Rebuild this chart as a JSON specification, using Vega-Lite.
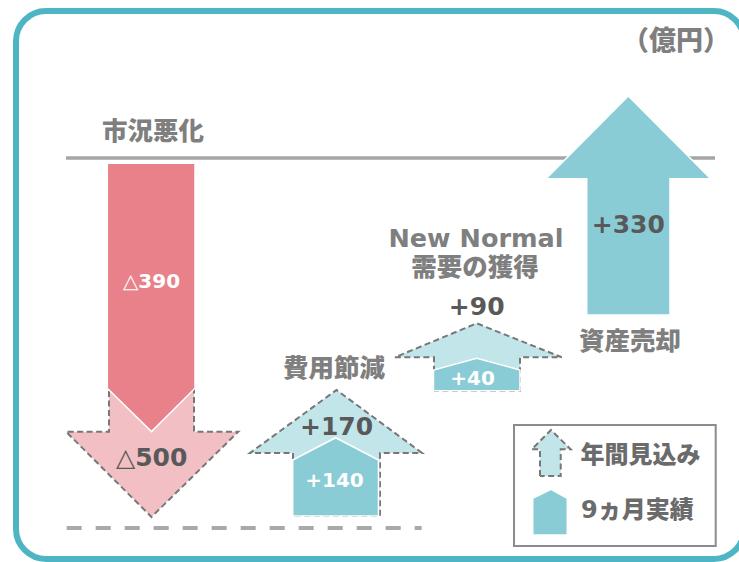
{
  "$schema": "https://vega.github.io/schema/vega-lite/v6.json",
  "width": 739,
  "height": 562,
  "autosize": {"type": "fit", "contains": "padding"},
  "padding": {"left": 16, "top": 11, "right": -5, "bottom": 3},
  "background": "white",
  "view": {"stroke": "#4db5c3", "strokeWidth": 6, "cornerRadius": 30, "fill": "white"},
  "config": {"font": "DejaVu Sans, Noto Sans CJK JP"},
  "datasets": {
    "rules": [
      {"name": "基準", "x": 6.6, "x2": 71.5, "y": 0},
      {"name": "底", "x": 6.67, "x2": 42.17, "y": -500}
    ],
    "box": [
      {"x": 51.4, "x2": 71.57, "y": -360.8, "y2": -524.3}
    ],
    "shapes": [
      {"s": "A", "k": "悪化・年間見込み", "i": 0, "x": 10.9, "y": -40},
      {"s": "A", "k": "悪化・年間見込み", "i": 1, "x": 19.4, "y": -40},
      {"s": "A", "k": "悪化・年間見込み", "i": 2, "x": 19.4, "y": -369.8},
      {"s": "A", "k": "悪化・年間見込み", "i": 3, "x": 23.83, "y": -369.8},
      {"s": "A", "k": "悪化・年間見込み", "i": 4, "x": 15.15, "y": -485.1},
      {"s": "A", "k": "悪化・年間見込み", "i": 5, "x": 6.6, "y": -369.8},
      {"s": "A", "k": "悪化・年間見込み", "i": 6, "x": 10.9, "y": -369.8},
      {"s": "A", "k": "悪化・年間見込み", "i": 7, "x": 10.9, "y": -40},

      {"s": "B", "k": "悪化・9ヵ月実績", "i": 0, "x": 10.73, "y": -7.2},
      {"s": "B", "k": "悪化・9ヵ月実績", "i": 1, "x": 19.5, "y": -7.2},
      {"s": "B", "k": "悪化・9ヵ月実績", "i": 2, "x": 19.5, "y": -311.2},
      {"s": "B", "k": "悪化・9ヵ月実績", "i": 3, "x": 15.15, "y": -369.8},
      {"s": "B", "k": "悪化・9ヵ月実績", "i": 4, "x": 10.73, "y": -311.2},
      {"s": "B", "k": "悪化・9ヵ月実績", "i": 5, "x": 10.73, "y": -7.2},

      {"s": "C", "k": "改善・年間見込み", "i": 0, "x": 29.3, "y": -483.8},
      {"s": "C", "k": "改善・年間見込み", "i": 1, "x": 29.3, "y": -398.6},
      {"s": "C", "k": "改善・年間見込み", "i": 2, "x": 25.0, "y": -398.6},
      {"s": "C", "k": "改善・年間見込み", "i": 3, "x": 33.65, "y": -313.5},
      {"s": "C", "k": "改善・年間見込み", "i": 4, "x": 42.2, "y": -398.6},
      {"s": "C", "k": "改善・年間見込み", "i": 5, "x": 38.0, "y": -398.6},
      {"s": "C", "k": "改善・年間見込み", "i": 6, "x": 38.0, "y": -483.8},
      {"s": "C", "k": "改善・年間見込み", "i": 7, "x": 29.3, "y": -483.8},

      {"s": "D", "k": "改善・9ヵ月実績", "i": 0, "x": 29.27, "y": -483.8},
      {"s": "D", "k": "改善・9ヵ月実績", "i": 1, "x": 29.27, "y": -408.1},
      {"s": "D", "k": "改善・9ヵ月実績", "i": 2, "x": 33.57, "y": -378.0},
      {"s": "D", "k": "改善・9ヵ月実績", "i": 3, "x": 37.85, "y": -408.1},
      {"s": "D", "k": "改善・9ヵ月実績", "i": 4, "x": 37.85, "y": -483.8},
      {"s": "D", "k": "改善・9ヵ月実績", "i": 5, "x": 29.27, "y": -483.8},

      {"s": "E", "k": "改善・年間見込み", "i": 0, "x": 43.4, "y": -314.4},
      {"s": "E", "k": "改善・年間見込み", "i": 1, "x": 43.4, "y": -269.3},
      {"s": "E", "k": "改善・年間見込み", "i": 2, "x": 39.5, "y": -269.3},
      {"s": "E", "k": "改善・年間見込み", "i": 3, "x": 47.67, "y": -223.4},
      {"s": "E", "k": "改善・年間見込み", "i": 4, "x": 56.17, "y": -269.3},
      {"s": "E", "k": "改善・年間見込み", "i": 5, "x": 52.0, "y": -269.3},
      {"s": "E", "k": "改善・年間見込み", "i": 6, "x": 52.0, "y": -314.4},
      {"s": "E", "k": "改善・年間見込み", "i": 7, "x": 43.4, "y": -314.4},

      {"s": "F", "k": "改善・9ヵ月実績", "i": 0, "x": 43.35, "y": -314.4},
      {"s": "F", "k": "改善・9ヵ月実績", "i": 1, "x": 43.35, "y": -286.5},
      {"s": "F", "k": "改善・9ヵ月実績", "i": 2, "x": 47.67, "y": -270.7},
      {"s": "F", "k": "改善・9ヵ月実績", "i": 3, "x": 52.0, "y": -286.5},
      {"s": "F", "k": "改善・9ヵ月実績", "i": 4, "x": 52.0, "y": -314.4},
      {"s": "F", "k": "改善・9ヵ月実績", "i": 5, "x": 43.35, "y": -314.4},

      {"s": "G", "k": "改善・9ヵ月実績", "i": 0, "x": 58.67, "y": -212.2},
      {"s": "G", "k": "改善・9ヵ月実績", "i": 1, "x": 58.67, "y": -28.0},
      {"s": "G", "k": "改善・9ヵ月実績", "i": 2, "x": 54.6, "y": -28.0},
      {"s": "G", "k": "改善・9ヵ月実績", "i": 3, "x": 62.83, "y": 83.8},
      {"s": "G", "k": "改善・9ヵ月実績", "i": 4, "x": 71.07, "y": -28.0},
      {"s": "G", "k": "改善・9ヵ月実績", "i": 5, "x": 67.0, "y": -28.0},
      {"s": "G", "k": "改善・9ヵ月実績", "i": 6, "x": 67.0, "y": -212.2},
      {"s": "G", "k": "改善・9ヵ月実績", "i": 7, "x": 58.67, "y": -212.2},

      {"s": "H", "k": "改善・年間見込み", "i": 0, "x": 54.0, "y": -429.7},
      {"s": "H", "k": "改善・年間見込み", "i": 1, "x": 54.0, "y": -393.7},
      {"s": "H", "k": "改善・年間見込み", "i": 2, "x": 53.17, "y": -393.7},
      {"s": "H", "k": "改善・年間見込み", "i": 3, "x": 55.1, "y": -367.6},
      {"s": "H", "k": "改善・年間見込み", "i": 4, "x": 57.07, "y": -393.7},
      {"s": "H", "k": "改善・年間見込み", "i": 5, "x": 56.07, "y": -393.7},
      {"s": "H", "k": "改善・年間見込み", "i": 6, "x": 56.07, "y": -429.7},
      {"s": "H", "k": "改善・年間見込み", "i": 7, "x": 54.0, "y": -429.7},

      {"s": "I", "k": "改善・9ヵ月実績", "i": 0, "x": 53.27, "y": -509.5},
      {"s": "I", "k": "改善・9ヵ月実績", "i": 1, "x": 53.27, "y": -459.9},
      {"s": "I", "k": "改善・9ヵ月実績", "i": 2, "x": 55.1, "y": -447.7},
      {"s": "I", "k": "改善・9ヵ月実績", "i": 3, "x": 56.73, "y": -459.9},
      {"s": "I", "k": "改善・9ヵ月実績", "i": 4, "x": 56.73, "y": -509.5},
      {"s": "I", "k": "改善・9ヵ月実績", "i": 5, "x": 53.27, "y": -509.5}
    ],
    "labels": [
      {"g": "cat", "text": "市況悪化", "x": 15.3, "y": 34.5},
      {"g": "cat", "text": "費用節減", "x": 33.4, "y": -284.5},
      {"g": "cat", "text": "New Normal", "x": 47.6, "y": -109.2},
      {"g": "cat", "text": "需要の獲得", "x": 47.5, "y": -148.0},
      {"g": "cat", "text": "資産売却", "x": 63.0, "y": -248.2},
      {"g": "unit", "text": "（億円）", "x": 73.0, "y": 156.1},
      {"g": "val", "text": "△500", "x": 15.17, "y": -405.8},
      {"g": "val", "text": "+170", "x": 33.65, "y": -363.1},
      {"g": "val", "text": "+90", "x": 47.67, "y": -201.0},
      {"g": "val", "text": "+330", "x": 62.83, "y": -91.2},
      {"g": "act", "text": "△390", "x": 15.15, "y": -168.2},
      {"g": "act", "text": "+140", "x": 33.45, "y": -436.2},
      {"g": "act", "text": "+40", "x": 47.25, "y": -298.4},
      {"g": "leg", "text": "年間見込み", "x": 58.05, "y": -402.4},
      {"g": "leg", "text": "9ヵ月実績", "x": 58.1, "y": -477.4}
    ]
  },
  "encoding": {
    "x": {"field": "x", "type": "quantitative", "scale": {"domain": [1.6, 74.4], "nice": false, "zero": false}, "axis": null},
    "y": {"field": "y", "type": "quantitative", "scale": {"domain": [-541.9, 198.65], "nice": false, "zero": false}, "axis": null}
  },
  "layer": [
    {
      "data": {"name": "rules"},
      "transform": [{"filter": "datum.name == '基準'"}],
      "mark": {"type": "rule", "stroke": "#a6a6a6", "strokeWidth": 3.5},
      "encoding": {"x2": {"field": "x2"}}
    },
    {
      "data": {"name": "rules"},
      "transform": [{"filter": "datum.name == '底'"}],
      "mark": {"type": "rule", "stroke": "#a9a9a9", "strokeWidth": 4, "strokeDash": [15, 14]},
      "encoding": {"x2": {"field": "x2"}}
    },
    {
      "data": {"name": "box"},
      "mark": {"type": "rect", "fill": "white", "stroke": "#8c8c8c", "strokeWidth": 2},
      "encoding": {"x2": {"field": "x2"}, "y2": {"field": "y2"}}
    },
    {
      "data": {"name": "shapes"},
      "transform": [{"filter": "indexof(datum.k, '年間見込み') >= 0"}],
      "mark": {"type": "line", "filled": true, "stroke": "#777777", "strokeWidth": 2, "strokeDash": [6, 3.5], "strokeJoin": "miter"},
      "encoding": {
        "color": {"field": "k", "type": "nominal", "legend": null,
          "scale": {"domain": ["悪化・年間見込み", "悪化・9ヵ月実績", "改善・年間見込み", "改善・9ヵ月実績"],
                    "range": ["#f2c0c4", "#e8818a", "#c2e5ea", "#89ccd5"]}},
        "detail": {"field": "s", "type": "nominal"},
        "order": {"field": "i", "type": "quantitative"}
      }
    },
    {
      "data": {"name": "shapes"},
      "transform": [{"filter": "indexof(datum.k, '9ヵ月実績') >= 0"}],
      "mark": {"type": "line", "filled": true, "stroke": "white", "strokeWidth": 1.5, "strokeJoin": "miter"},
      "encoding": {
        "color": {"field": "k", "type": "nominal", "legend": null,
          "scale": {"domain": ["悪化・年間見込み", "悪化・9ヵ月実績", "改善・年間見込み", "改善・9ヵ月実績"],
                    "range": ["#f2c0c4", "#e8818a", "#c2e5ea", "#89ccd5"]}},
        "detail": {"field": "s", "type": "nominal"},
        "order": {"field": "i", "type": "quantitative"}
      }
    },
    {
      "data": {"name": "labels"},
      "transform": [{"filter": "datum.g == 'cat'"}],
      "mark": {"type": "text", "fontSize": 25.5, "fontWeight": 900, "color": "#7f7f7f", "align": "center", "baseline": "middle"},
      "encoding": {"text": {"field": "text"}}
    },
    {
      "data": {"name": "labels"},
      "transform": [{"filter": "datum.g == 'unit'"}],
      "mark": {"type": "text", "fontSize": 27, "fontWeight": 900, "color": "#7f7f7f", "align": "right", "baseline": "middle"},
      "encoding": {"text": {"field": "text"}}
    },
    {
      "data": {"name": "labels"},
      "transform": [{"filter": "datum.g == 'val'"}],
      "mark": {"type": "text", "fontSize": 25, "fontWeight": "bold", "color": "#595959", "align": "center", "baseline": "middle"},
      "encoding": {"text": {"field": "text"}}
    },
    {
      "data": {"name": "labels"},
      "transform": [{"filter": "datum.g == 'act'"}],
      "mark": {"type": "text", "fontSize": 20, "fontWeight": "bold", "color": "white", "align": "center", "baseline": "middle"},
      "encoding": {"text": {"field": "text"}}
    },
    {
      "data": {"name": "labels"},
      "transform": [{"filter": "datum.g == 'leg'"}],
      "mark": {"type": "text", "fontSize": 24, "fontWeight": 900, "color": "#6b6b6b", "align": "left", "baseline": "middle"},
      "encoding": {"text": {"field": "text"}}
    }
  ]
}
